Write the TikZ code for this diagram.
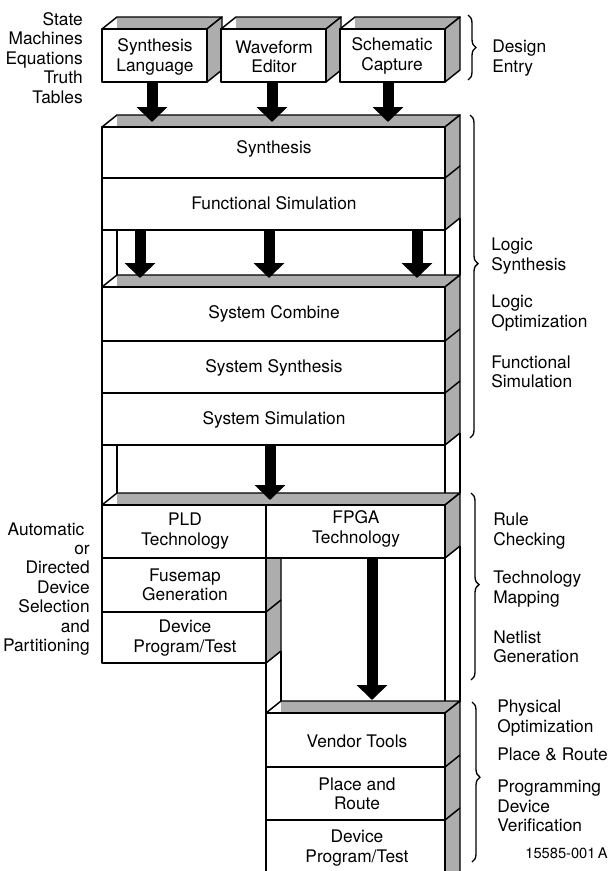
\documentclass[tikz,border=0pt]{standalone}
\usepackage{fontspec}
\setmainfont{TeX Gyre Heros}
\usetikzlibrary{arrows.meta,decorations.pathreplacing}
\newcommand\topslab[3]{%
  \fill[white] (#1,#3) -- ({#1+15},{#3-12}) -- ({#2+15},{#3-12}) -- (#2,#3) -- cycle;
  \fill[shadefill] ({#1+15},{#3-12}) rectangle ({#2+15},#3);
  \draw[edge] (#1,#3) -- ({#1+15},{#3-12}) -- ({#2+15},{#3-12}) -- (#2,#3) -- cycle;}
\newcommand\rightslab[3]{%
  \filldraw[edge,shadefill] (#1,#2) -- ({#1+15},{#2-12}) -- ({#1+15},{#3-12}) -- (#1,#3) -- cycle;}
\newcommand\rsep[2]{\draw[edge] (#1,#2) -- ({#1+15},{#2-12});}
\begin{document}
\begin{tikzpicture}[x=0.75pt,y=-0.75pt,
  edge/.style={line width=1.1pt, line join=round},
  shadefill/.style={fill=black!32},
  frontbox/.style={edge, fill=white},
  lbl/.style={font=\fontsize{13pt}{14.6pt}\selectfont, align=center, inner sep=0pt},
  side/.style={font=\fontsize{13pt}{14.6pt}\selectfont, align=left, anchor=west, inner sep=0pt},
  bigarrow/.style={line width=8.25pt, -{Triangle[length=11.25pt,width=22.5pt]}},
  bracecurl/.style={decorate, decoration={brace, amplitude=6pt, aspect=#1}, line width=1pt},
  bracecurl/.default=0.5
]
\clip (0,0) rectangle (610,871);
\fill[white] (0,0) rectangle (610,871);

% ---- design entry boxes
\foreach \xa/\xb in {102/207, 221/326, 340/445}{
  \topslab{\xa}{\xb}{29}
  \rightslab{\xb}{29}{82}
  \draw[frontbox] (\xa,29) rectangle (\xb,82);
}

% ---- gap lines
\draw[edge] (102,230) -- (102,287);
\draw[edge] (117,230) -- (117,275);
\draw[edge] (445,230) -- (445,287);
\draw[edge] (460,218) -- (460,275);
\draw[edge] (102,445) -- (102,505);
\draw[edge] (117,445) -- (117,493);
\draw[edge] (445,445) -- (445,505);
\draw[edge] (460,433) -- (460,493);
\draw[edge] (266,663) -- (266,713);
\draw[edge] (281,651) -- (281,702);
\draw[edge] (445,558) -- (445,713);
\draw[edge] (460,546) -- (460,702);

% ---- logic synthesis section
\topslab{102}{445}{127}
\rightslab{445}{127}{230}
\rsep{445}{178}
\draw[frontbox] (102,127) rectangle (445,178);
\draw[frontbox] (102,178) rectangle (445,230);

% ---- system section
\topslab{102}{445}{287}
\rightslab{445}{287}{445}
\rsep{445}{341}
\rsep{445}{393}
\draw[frontbox] (102,287) rectangle (445,341);
\draw[frontbox] (102,341) rectangle (445,393);
\draw[frontbox] (102,393) rectangle (445,445);

% ---- technology section
\topslab{102}{445}{505}
\rightslab{445}{505}{558}
\filldraw[edge,shadefill] (266,558) -- (281,558) -- (281,651) -- (266,663) -- cycle;
\rsep{266}{612}
\draw[frontbox] (102,505) rectangle (266,558);
\draw[frontbox] (266,505) rectangle (445,558);
\draw[frontbox] (102,558) rectangle (266,612);
\draw[frontbox] (102,612) rectangle (266,663);

% ---- vendor section
\topslab{266}{445}{713}
\rightslab{445}{713}{890}
\rsep{445}{767}
\rsep{445}{820}
\draw[frontbox] (266,713) rectangle (445,767);
\draw[frontbox] (266,767) rectangle (445,820);
\draw[frontbox] (266,820) rectangle (445,890);

% ---- arrows
\coordinate (a1s) at (152,82);  \coordinate (a1e) at (152,122);
\coordinate (a2s) at (272,82);  \coordinate (a2e) at (272,122);
\coordinate (a3s) at (388,82);  \coordinate (a3e) at (388,122);
\coordinate (b1s) at (140,230); \coordinate (b1e) at (140,278);
\coordinate (b2s) at (269,230); \coordinate (b2e) at (269,278);
\coordinate (b3s) at (417,230); \coordinate (b3e) at (417,278);
\coordinate (c1s) at (270,445); \coordinate (c1e) at (270,500);
\coordinate (d1s) at (372,558); \coordinate (d1e) at (372,700);
\foreach \p in {a1,a2,a3,b1,b2,b3,c1,d1}{
  \draw[bigarrow] (\p s) -- (\p e);
}

% ---- labels in boxes
\node[lbl] (sl) at (155,57) {Synthesis\\Language};
\node[lbl] (we) at (274,57) {Waveform\\Editor};
\node[lbl] (sc) at (392,56) {Schematic\\Capture};
\node[lbl] (syn) at (274,149) {Synthesis};
\node[lbl] (fsim) at (274,203) {Functional Simulation};
\node[lbl] (scomb) at (274,314) {System Combine};
\node[lbl] (ssyn) at (274,368) {System Synthesis};
\node[lbl] (ssim) at (274,420) {System Simulation};
\node[lbl] (pld) at (185,531) {PLD\\Technology};
\node[lbl] (fpga) at (356,529) {FPGA\\Technology};
\node[lbl] (fuse) at (185,585) {Fusemap\\Generation};
\node[lbl] (dpt1) at (185,638) {Device\\Program/Test};
\node[lbl] (vend) at (357,741) {Vendor Tools};
\node[lbl] (pr) at (357,794) {Place and\\Route};
\node[lbl] (dpt2) at (357,848) {Device\\Program/Test};

% ---- side labels
\node[lbl, align=right, anchor=east] (inputs) at (83,58) {State\\Machines\\Equations\\Truth\\Tables};
\node[lbl, align=right, anchor=east] (autosel) at (90,589) {Automatic\kern4pt\\or\\Directed\\Device\\Selection\\and\\Partitioning};
\node[side] (de) at (492,58) {Design\\Entry};
\node[side] (ls) at (491,256) {Logic\\Synthesis};
\node[side] (lo) at (491,313) {Logic\\Optimization};
\node[side] (fs) at (491,372) {Functional\\Simulation};
\node[side] (rc) at (493,531) {Rule\\Checking};
\node[side] (tm) at (493,589) {Technology\\Mapping};
\node[side] (ng) at (493,647) {Netlist\\Generation};
\node[side] (po) at (497,718) {Physical\\Optimization};
\node[side] (pnr) at (497,754) {Place \& Route};
\node[side] (pdv) at (497,806) {Programming\\Device\\Verification};
\node[font=\fontsize{11pt}{13pt}\selectfont, anchor=east, inner sep=0pt] (fig) at (608,853) {15585-001\,A};

% ---- braces
\draw[bracecurl] (468,15) -- (468,80);
\draw[bracecurl=0.46] (470,115) -- (470,438);
\draw[bracecurl=0.49] (471,493) -- (471,680);
\draw[bracecurl=0.47] (472,702) -- (472,862);
\end{tikzpicture}
\end{document}
